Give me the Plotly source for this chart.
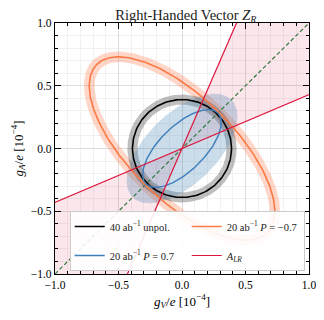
"""
Right-handed vector Z_R: allowed regions in the (g_V, g_A) plane
"""
import numpy as np
import plotly.graph_objs as go

# ellipse parameters: centre, semi axes, tilt (deg), band half-width
unpol_ellipse = {'cx': 0.0, 'cy': 0.0, 'a': 0.39, 'b': 0.39, 'angle': 0, 'band': 0.04}
pol_plus_ellipse = {'cx': 0.0, 'cy': 0.0, 'a': 0.40, 'b': 0.178, 'angle': 45, 'band': 0.0}
pol_plus_shade = {'cx': 0.0, 'cy': 0.0, 'a': 0.55, 'b': 0.28, 'angle': 45}
pol_minus_ellipse = {'cx': 0.0, 'cy': 0.0, 'a': 0.948, 'b': 0.41, 'angle': 135, 'band': 0.045}

# A_LR constraint: two lines through the origin
alr_slopes = [0.43, 2.33]

tick_vals = [-1.0, -0.5, 0.0, 0.5, 1.0]

FONT = "Liberation Serif"


def ellipse_xy(p, da=0.0, db=0.0, n=240):
    t = np.linspace(0, 2 * np.pi, n)
    ang = np.radians(p['angle'])
    a = p['a'] + da
    b = p['b'] + db
    x = p['cx'] + a * np.cos(t) * np.cos(ang) - b * np.sin(t) * np.sin(ang)
    y = p['cy'] + a * np.cos(t) * np.sin(ang) + b * np.sin(t) * np.cos(ang)
    return x, y


def band_trace(p, color):
    w = p['band']
    xo, yo = ellipse_xy(p, w, w)
    xi, yi = ellipse_xy(p, -w, -w)
    x = np.concatenate([xo, xi[::-1]])
    y = np.concatenate([yo, yi[::-1]])
    return go.Scatter(x=x, y=y, mode='lines', fill='toself', fillcolor=color,
                      line=dict(width=0), hoverinfo='skip', showlegend=False)


fig = go.Figure()

# pink A_LR wedge, both quadrants
L = 3.0
for sgn in (1, -1):
    wx = [0, sgn * L, sgn * L, 0]
    wy = [0, sgn * L * alr_slopes[0], sgn * L * alr_slopes[1], 0]
    fig.add_trace(go.Scatter(x=wx, y=wy, mode='lines', fill='toself',
                             fillcolor='rgba(220,20,60,0.10)', line=dict(width=0),
                             hoverinfo='skip', showlegend=False))

# shaded bands
fig.add_trace(band_trace(pol_minus_ellipse, 'rgba(255,127,80,0.32)'))
fig.add_trace(band_trace(unpol_ellipse, 'rgba(0,0,0,0.25)'))
sx, sy = ellipse_xy(pol_plus_shade)
fig.add_trace(go.Scatter(x=sx, y=sy, mode='lines', fill='toself',
                         fillcolor='rgba(70,130,180,0.28)', line=dict(width=0),
                         hoverinfo='skip', showlegend=False))

# diagonal g_A = g_V
fig.add_trace(go.Scatter(x=[-1, 1], y=[-1, 1], mode='lines',
                         line=dict(color='#2f7a40', width=1.2, dash='4px,2.5px'),
                         hoverinfo='skip', showlegend=False))

# contour lines
x, y = ellipse_xy(unpol_ellipse)
fig.add_trace(go.Scatter(x=x, y=y, mode='lines', line=dict(color='black', width=1.6),
                         name='40 ab<sup>\u22121</sup> unpol.'))
x, y = ellipse_xy(pol_minus_ellipse)
fig.add_trace(go.Scatter(x=x, y=y, mode='lines', line=dict(color='#fa7b46', width=1.6),
                         name='20 ab<sup>\u22121</sup> <i>P</i> = \u22120.7'))
x, y = ellipse_xy(pol_plus_ellipse)
fig.add_trace(go.Scatter(x=x, y=y, mode='lines', line=dict(color='#3d7fbb', width=1.4),
                         name='20 ab<sup>\u22121</sup> <i>P</i> = 0.7'))
for i, s in enumerate(alr_slopes):
    fig.add_trace(go.Scatter(x=[-L, L], y=[-L * s, L * s], mode='lines',
                             line=dict(color='#dc143c', width=1.2),
                             name='<i>A<sub>LR</sub></i>', legendgroup='alr',
                             showlegend=(i == 0)))

axis_common = dict(
    range=[-1, 1], tickvals=tick_vals, tickformat='.1f', automargin=False,
    ticks='inside', ticklen=6, tickcolor='black', tickwidth=1,
    showline=True, linecolor='black', linewidth=1.2, mirror='allticks',
    showgrid=True, gridcolor='#dcdcdc', gridwidth=1, zeroline=False,
    minor=dict(dtick=0.1, ticks='inside', ticklen=3, tickcolor='black',
               showgrid=True, gridcolor='#f1f1f1', gridwidth=1),
    tickfont=dict(family=FONT, size=11.5, color='black'),
)

# the page adds an 8px body margin, so the figure is laid out 8px up/left
fig.update_layout(
    width=324, height=320,
    margin=dict(l=47, r=23, t=15, b=54),
    plot_bgcolor='white', paper_bgcolor='white',
    font=dict(family=FONT, color='black'),
    title=dict(text='Right-Handed Vector <i>Z<sub>R</sub></i>', x=0.549, xanchor='center',
               y=0.995, yanchor='top', pad=dict(t=0, b=0),
               font=dict(family=FONT, size=14.5, color='#222')),
    xaxis=dict(axis_common, title=dict(text='<i>g<sub>V</sub></i>/<i>e</i> [10<sup>\u22124</sup>]',
                                       font=dict(family=FONT, size=13), standoff=6)),
    yaxis=dict(axis_common, title=dict(text='<i>g<sub>A</sub></i>/<i>e</i> [10<sup>\u22124</sup>]',
                                       font=dict(family=FONT, size=13), standoff=4)),
    legend=dict(orientation='h', x=0.058, xanchor='left', y=0.012, yanchor='bottom',
                bgcolor='rgba(255,255,255,0.9)', bordercolor='#cccccc', borderwidth=1,
                font=dict(family=FONT, size=10.5, color='#222'),
                entrywidth=72, entrywidthmode='pixels',
                itemwidth=30),
)

fig.write_html("out.html")
